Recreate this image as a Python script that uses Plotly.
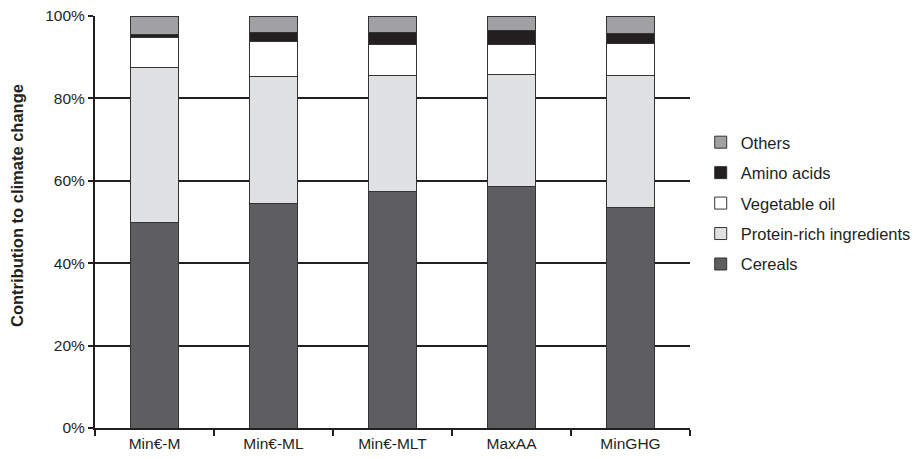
import plotly.graph_objects as go

categories = ["Min€-M", "Min€-ML", "Min€-MLT", "MaxAA", "MinGHG"]
cereals = [50.0, 54.4, 57.3, 58.7, 53.6]
protein = [37.6, 31.0, 28.3, 27.1, 32.0]
veg_oil = [7.3, 8.5, 7.4, 7.3, 7.7]
amino = [0.7, 2.1, 2.9, 3.3, 2.4]
others = [4.4, 4.0, 4.1, 3.6, 4.3]

series = [
    ("Cereals", cereals, "#5e5e60"),
    ("Protein-rich ingredients", protein, "#e0e1e3"),
    ("Vegetable oil", veg_oil, "#ffffff"),
    ("Amino acids", amino, "#231f20"),
    ("Others", others, "#a1a1a3"),
]

fig = go.Figure()
for i, (name, vals, col) in enumerate(series):
    fig.add_trace(go.Bar(
        x=categories, y=vals, name=name, legendgroup=name,
        legendrank=1000 - i,
        marker=dict(color=col, line=dict(color="#333333", width=1)),
        width=0.4,
    ))

fig.update_layout(
    barmode="stack",
    width=919, height=459,
    margin=dict(l=95, r=229, t=16, b=31, autoexpand=False),
    plot_bgcolor="white", paper_bgcolor="white",
    font=dict(family="Liberation Sans, Arial, sans-serif", size=15.5, color="#231f20"),
    showlegend=True,
    legend=dict(x=1.018, y=0.545, yanchor="middle", xanchor="left",
                traceorder="grouped", tracegroupgap=6,
                font=dict(size=16.5)),
    annotations=[dict(
        text="<b>Contribution to climate change</b>",
        xref="paper", yref="paper", x=-0.131, y=0.539,
        xanchor="center", yanchor="middle", textangle=-90,
        showarrow=False, font=dict(size=16.5),
    )],
)
fig.update_yaxes(
    range=[0, 100], tickvals=[0, 20, 40, 60, 80, 100],
    ticktext=["0%", "20%", "40%", "60%", "80%", "100%"],
    showgrid=True, gridcolor="#231f20", gridwidth=1.5,
    showline=True, linecolor="#231f20", linewidth=2,
    ticks="outside", ticklen=5, tickcolor="#231f20", tickwidth=2,
    zeroline=False, automargin=False,
)
fig.update_xaxes(
    showline=True, linecolor="#231f20", linewidth=2,
    ticks="outside", tickson="boundaries", ticklen=6, tickcolor="#231f20", tickwidth=2,
    showgrid=False, automargin=False,
)
fig.write_html("out.html", config={"displayModeBar": False},
               post_script="document.body.style.margin='0';")
